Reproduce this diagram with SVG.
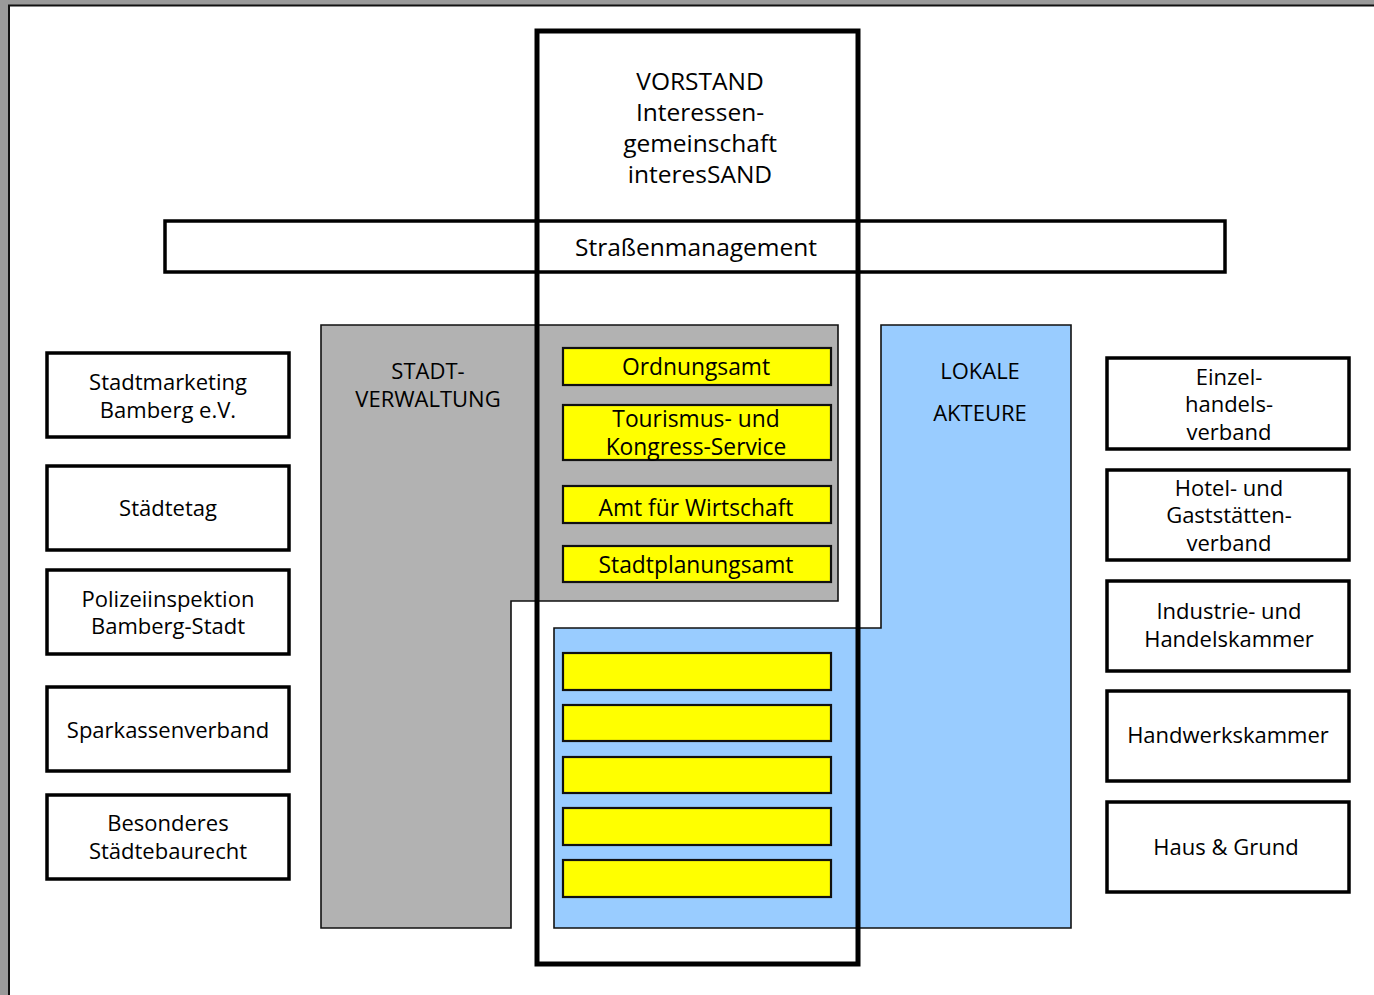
<svg xmlns="http://www.w3.org/2000/svg" width="1374" height="995" viewBox="0 0 1374 995">
  <style>
    .box { fill: #ffffff; stroke: #000000; stroke-width: 3.5; }
    .area { stroke: #111111; stroke-width: 1.6; }
    .gray { fill: #b2b2b2; }
    .blue { fill: #99ccff; }
    .amt { fill: #ffff00; stroke: #111111; stroke-width: 2.2; }
    .frame { fill: none; stroke: #000000; stroke-width: 5; }
    text { font-family: "Open Sans", "Noto Sans", "DejaVu Sans", sans-serif; font-size: 22px; fill: #000000; text-anchor: middle; }
    .big { font-size: 24.5px; }
    .mid { font-size: 22.8px; }
  </style>

  <!-- page -->
  <rect x="0" y="0" width="1374" height="995" fill="#9a9a9a"/>
  <rect x="9" y="5.5" width="1370" height="995" fill="#ffffff" stroke="#111111" stroke-width="2"/>

  <!-- Straßenmanagement bar -->
  <g id="strassenmanagement">
    <rect class="box" x="165" y="221" width="1060" height="51"/>
    <text class="big" x="696" y="256">Straßenmanagement</text>
  </g>

  <!-- Stadtverwaltung area -->
  <g id="stadtverwaltung">
    <path class="area gray" d="M321 325 H838 V601 H511 V928 H321 Z"/>
    <text x="428" y="379">STADT-</text>
    <text x="428" y="407">VERWALTUNG</text>
  </g>

  <!-- Lokale Akteure area -->
  <g id="lokale-akteure">
    <path class="area blue" d="M881 325 H1071 V928 H554 V628 H881 Z"/>
    <text x="980" y="379">LOKALE</text>
    <text x="980" y="421">AKTEURE</text>
  </g>

  <!-- offices -->
  <g id="ordnungsamt">
    <rect class="amt" x="563" y="348" width="268" height="37"/>
    <text class="mid" x="696" y="375">Ordnungsamt</text>
  </g>
  <g id="tourismus">
    <rect class="amt" x="563" y="405" width="268" height="55"/>
    <text class="mid" x="696" y="427">Tourismus- und</text>
    <text class="mid" x="696" y="455">Kongress-Service</text>
  </g>
  <g id="wirtschaft">
    <rect class="amt" x="563" y="486" width="268" height="37"/>
    <text class="mid" x="696" y="516">Amt für Wirtschaft</text>
  </g>
  <g id="stadtplanungsamt">
    <rect class="amt" x="563" y="546" width="268" height="36"/>
    <text class="mid" x="696" y="573">Stadtplanungsamt</text>
  </g>

  <!-- empty slots -->
  <g id="slot-1"><rect class="amt" x="563" y="653" width="268" height="37"/></g>
  <g id="slot-2"><rect class="amt" x="563" y="705" width="268" height="36"/></g>
  <g id="slot-3"><rect class="amt" x="563" y="757" width="268" height="36"/></g>
  <g id="slot-4"><rect class="amt" x="563" y="808" width="268" height="37"/></g>
  <g id="slot-5"><rect class="amt" x="563" y="860" width="268" height="37"/></g>

  <!-- Vorstand frame -->
  <g id="vorstand">
    <rect class="frame" x="537" y="31" width="321" height="933"/>
    <text class="big" x="700" y="90">VORSTAND</text>
    <text class="big" x="700" y="121">Interessen-</text>
    <text class="big" x="700" y="152">gemeinschaft</text>
    <text class="big" x="700" y="183">interesSAND</text>
  </g>

  <!-- partners left -->
  <g id="stadtmarketing">
    <rect class="box" x="47" y="353" width="242" height="84"/>
    <text x="168" y="390">Stadtmarketing</text>
    <text x="168" y="418">Bamberg e.V.</text>
  </g>
  <g id="staedtetag">
    <rect class="box" x="47" y="466" width="242" height="84"/>
    <text x="168" y="516">Städtetag</text>
  </g>
  <g id="polizei">
    <rect class="box" x="47" y="570" width="242" height="84"/>
    <text x="168" y="607">Polizeiinspektion</text>
    <text x="168" y="634">Bamberg-Stadt</text>
  </g>
  <g id="sparkasse">
    <rect class="box" x="47" y="687" width="242" height="84"/>
    <text x="168" y="738">Sparkassenverband</text>
  </g>
  <g id="staedtebaurecht">
    <rect class="box" x="47" y="795" width="242" height="84"/>
    <text x="168" y="831">Besonderes</text>
    <text x="168" y="859">Städtebaurecht</text>
  </g>

  <!-- partners right -->
  <g id="einzelhandel">
    <rect class="box" x="1107" y="358" width="242" height="91"/>
    <text x="1229" y="385">Einzel-</text>
    <text x="1229" y="412">handels-</text>
    <text x="1229" y="440">verband</text>
  </g>
  <g id="dehoga">
    <rect class="box" x="1107" y="470" width="242" height="90"/>
    <text x="1229" y="496">Hotel- und</text>
    <text x="1229" y="523">Gaststätten-</text>
    <text x="1229" y="551">verband</text>
  </g>
  <g id="ihk">
    <rect class="box" x="1107" y="581" width="242" height="90"/>
    <text x="1229" y="619">Industrie- und</text>
    <text x="1229" y="647">Handelskammer</text>
  </g>
  <g id="hwk">
    <rect class="box" x="1107" y="691" width="242" height="90"/>
    <text x="1228" y="743">Handwerkskammer</text>
  </g>
  <g id="haus-grund">
    <rect class="box" x="1107" y="802" width="242" height="90"/>
    <text x="1226" y="855">Haus &amp; Grund</text>
  </g>

  <g id="connectors"/>
</svg>
